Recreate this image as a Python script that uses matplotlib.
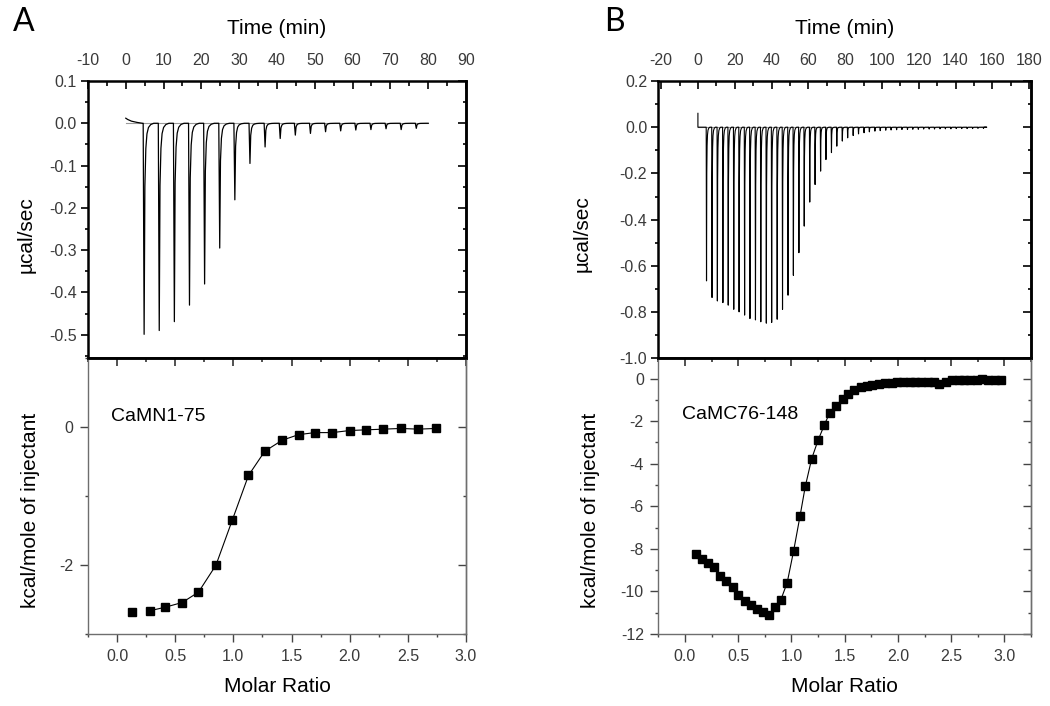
import matplotlib
matplotlib.use("Agg")
import matplotlib.pyplot as plt
from matplotlib.ticker import MultipleLocator

plt.rcParams['font.family'] = ['Liberation Sans', 'DejaVu Sans']
plt.rcParams['axes.unicode_minus'] = False

# ---- panel A: CaMN1-75 ----
# raw thermogram: injection times (min) and peak depths (ucal/sec)
inj_time_A = [4.6, 8.6, 12.6, 16.6, 20.6, 24.6, 28.6, 32.6, 36.6, 40.6,
              44.6, 48.6, 52.6, 56.6, 60.6, 64.6, 68.6, 72.6, 76.6]
peak_A = [-0.499, -0.490, -0.469, -0.430, -0.380, -0.295, -0.181, -0.095, -0.056, -0.036,
          -0.028, -0.024, -0.020, -0.018, -0.016, -0.015, -0.013, -0.015, -0.012]
start_t_A = [0.0, 0.5, 1.5, 3.0, 4.4]
start_y_A = [0.012, 0.009, 0.005, 0.002, 0.0]
end_t_A = 80.0

# integrated heats
ratio_A = [0.13, 0.28, 0.41, 0.56, 0.70, 0.85, 0.99, 1.13, 1.27, 1.42,
           1.56, 1.70, 1.85, 2.00, 2.14, 2.29, 2.44, 2.59, 2.74]
heat_A = [-2.68, -2.66, -2.61, -2.54, -2.39, -2.00, -1.35, -0.70, -0.35, -0.19,
          -0.11, -0.08, -0.08, -0.05, -0.04, -0.03, -0.02, -0.03, -0.02]

# ---- panel B: CaMC76-148 ----
inj_time_B = [4.5, 7.5, 10.4, 13.4, 16.3, 19.3, 22.2, 25.2, 28.1, 31.1,
              34.0, 37.0, 39.9, 42.9, 45.8, 48.8, 51.7, 54.7, 57.6, 60.6,
              63.5, 66.5, 69.4, 72.4, 75.3, 78.3, 81.2, 84.2, 87.1, 90.1,
              93.0, 96.0, 98.9, 101.9, 104.8, 107.8, 110.7, 113.7, 116.6, 119.6,
              122.5, 125.5, 128.4, 131.4, 134.3, 137.3, 140.2, 143.2, 146.1, 149.1,
              152.0, 155.0]
peak_B = [-0.665, -0.737, -0.752, -0.759, -0.770, -0.788, -0.799, -0.813, -0.828, -0.834,
          -0.842, -0.848, -0.845, -0.831, -0.788, -0.727, -0.641, -0.543, -0.428, -0.324,
          -0.248, -0.190, -0.140, -0.110, -0.082, -0.060, -0.046, -0.036, -0.029, -0.024,
          -0.020, -0.017, -0.015, -0.013, -0.012, -0.011, -0.010, -0.010, -0.009, -0.009,
          -0.008, -0.008, -0.008, -0.007, -0.007, -0.007, -0.006, -0.006, -0.006, -0.006,
          -0.005, -0.005]
start_t_B = [0.0, 0.0]
start_y_B = [0.06, 0.0]
end_t_B = 155.5

ratio_B = [0.10, 0.16, 0.22, 0.27, 0.33, 0.39, 0.45, 0.50, 0.56, 0.62,
           0.68, 0.73, 0.79, 0.85, 0.90, 0.96, 1.02, 1.08, 1.13, 1.19,
           1.25, 1.31, 1.36, 1.42, 1.48, 1.53, 1.59, 1.65, 1.71, 1.76,
           1.82, 1.88, 1.94, 1.99, 2.05, 2.11, 2.16, 2.22, 2.28, 2.34,
           2.39, 2.45, 2.51, 2.57, 2.62, 2.68, 2.74, 2.79, 2.85, 2.91, 2.97]
heat_B = [-8.24, -8.47, -8.68, -8.86, -9.26, -9.49, -9.77, -10.15, -10.46, -10.62,
          -10.81, -10.96, -11.09, -10.75, -10.40, -9.59, -8.11, -6.48, -5.07, -3.77,
          -2.90, -2.17, -1.60, -1.29, -0.97, -0.71, -0.55, -0.42, -0.36, -0.30,
          -0.24, -0.21, -0.20, -0.17, -0.16, -0.14, -0.14, -0.14, -0.14, -0.17,
          -0.24, -0.14, -0.08, -0.08, -0.08, -0.05, -0.05, 0.00, -0.05, -0.05, -0.08]

# shape of a single injection peak (time offset in min, fraction of depth)
peak_dt = [0, 0.25, 0.45, 0.7, 1.0, 1.4, 2.0, 2.8]
peak_frac = [0, 1, 0.3, 0.12, 0.05, 0.02, 0.006, 0]

TICK_COL = '#3a3a3a'
GREY = '#6e6e6e'


def thermogram(inj_times, peaks, start_t, start_y, end_t, t_scale):
    # build the raw power trace from the injection peaks
    t = list(start_t)
    y = list(start_y)
    for t0, h in zip(inj_times, peaks):
        for d, f in zip(peak_dt, peak_frac):
            t.append(t0 + d * t_scale)
            y.append(h * f)
    t.append(end_t)
    y.append(0.0)
    return t, y


def setup_top(ax, xlim, ylim, xmaj, xmin, ymaj, ymin):
    ax.set_xlim(*xlim)
    ax.set_ylim(*ylim)
    ax.xaxis.set_major_locator(MultipleLocator(xmaj))
    ax.xaxis.set_minor_locator(MultipleLocator(xmin))
    ax.yaxis.set_major_locator(MultipleLocator(ymaj))
    ax.yaxis.set_minor_locator(MultipleLocator(ymin))
    ax.yaxis.set_major_formatter(lambda v, p: f'{v:.1f}')
    ax.tick_params(axis='x', which='both', direction='in', top=True, bottom=False,
                   labeltop=True, labelbottom=False, width=1.2, pad=9, labelsize=11.5, labelcolor=TICK_COL)
    ax.tick_params(axis='x', which='major', length=6)
    ax.tick_params(axis='x', which='minor', length=3.5)
    ax.tick_params(axis='y', which='both', direction='out', right=False,
                   width=1.2, pad=3, labelsize=11.5, labelcolor=TICK_COL)
    ax.tick_params(axis='y', which='major', length=5)
    ax.tick_params(axis='y', which='minor', length=2.5)
    for s in ax.spines.values():
        s.set_linewidth(1.8)
        s.set_color('black')
    sec = ax.secondary_yaxis('right')
    sec.yaxis.set_major_locator(MultipleLocator(ymaj))
    sec.yaxis.set_minor_locator(MultipleLocator(ymin))
    sec.tick_params(axis='y', which='both', direction='in', labelright=False, width=1.2)
    sec.tick_params(axis='y', which='major', length=5.5)
    sec.tick_params(axis='y', which='minor', length=2.5)
    sec.spines['right'].set_linewidth(1.8)
    ax.text(0.5, 1.19, 'Time (min)', transform=ax.transAxes, ha='center', va='center', fontsize=15)


def setup_bottom(ax, ylim, xlim, ymaj, ymin):
    ax.set_xlim(*xlim)
    ax.set_ylim(*ylim)
    ax.xaxis.set_major_locator(MultipleLocator(0.5))
    ax.xaxis.set_minor_locator(MultipleLocator(0.25))
    ax.xaxis.set_major_formatter(lambda v, p: f'{v:.1f}')
    ax.yaxis.set_major_locator(MultipleLocator(ymaj))
    ax.yaxis.set_minor_locator(MultipleLocator(ymin))
    ax.yaxis.set_major_formatter(lambda v, p: f'{v:.0f}')
    ax.tick_params(axis='both', which='both', direction='out', top=False, right=False,
                   width=1.0, color='#444444', labelsize=11.5, labelcolor=TICK_COL)
    ax.tick_params(axis='both', which='major', length=5.5, pad=5)
    ax.tick_params(axis='both', which='minor', length=2.5)
    for side in ['left', 'right', 'bottom']:
        ax.spines[side].set_color(GREY)
        ax.spines[side].set_linewidth(1.0)
    ax.spines['top'].set_color('black')
    ax.spines['top'].set_linewidth(1.8)
    secx = ax.secondary_xaxis('top')
    secx.xaxis.set_major_locator(MultipleLocator(0.5))
    secx.xaxis.set_minor_locator(MultipleLocator(0.25))
    secx.tick_params(axis='x', which='both', direction='in', labeltop=False, width=1.2, color='#333333')
    secx.tick_params(axis='x', which='major', length=5.5)
    secx.tick_params(axis='x', which='minor', length=3)
    secx.spines['top'].set_linewidth(1.8)
    secy = ax.secondary_yaxis('right')
    secy.yaxis.set_major_locator(MultipleLocator(ymaj))
    secy.yaxis.set_minor_locator(MultipleLocator(ymin))
    secy.tick_params(axis='y', which='both', direction='in', labelright=False, width=1.0, color='#444444')
    secy.tick_params(axis='y', which='major', length=5.5)
    secy.tick_params(axis='y', which='minor', length=2.5)
    secy.spines['right'].set_color(GREY)
    secy.spines['right'].set_linewidth(1.0)
    ax.text(0.5, -0.19, 'Molar Ratio', transform=ax.transAxes, ha='center', va='center', fontsize=15)


fig = plt.figure(figsize=(10.5, 7.06), dpi=100)

axA1 = fig.add_axes([0.0838, 0.4929, 0.3600, 0.3924])
axA2 = fig.add_axes([0.0838, 0.1016, 0.3600, 0.3913])
axB1 = fig.add_axes([0.6270, 0.4925, 0.3549, 0.3928])
axB2 = fig.add_axes([0.6270, 0.1020, 0.3549, 0.3905])

# raw data panels
tA, yA = thermogram(inj_time_A, peak_A, start_t_A, start_y_A, end_t_A, 1.0)
axA1.plot([0, end_t_A], [0, 0], color='#9a9a9a', lw=0.8)
axA1.plot(tA, yA, color='black', lw=0.9)
setup_top(axA1, (-10, 90), (-0.555, 0.1), 10, 5, 0.1, 0.05)
axA1.set_ylabel('µcal/sec', fontsize=15)
axA1.yaxis.set_label_coords(-0.138, 0.444)

tB, yB = thermogram(inj_time_B, peak_B, start_t_B, start_y_B, end_t_B, 0.7)
axB1.plot([0, end_t_B], [0, 0], color='#9a9a9a', lw=0.8)
axB1.plot(tB, yB, color='black', lw=0.8)
setup_top(axB1, (-21.5, 181), (-1.0, 0.2), 20, 10, 0.2, 0.1)
axB1.set_ylabel('µcal/sec', fontsize=15)
axB1.yaxis.set_label_coords(-0.178, 0.448)

# integrated heat panels
axA2.plot(ratio_A[1:], heat_A[1:], color='black', lw=0.8)
axA2.plot(ratio_A, heat_A, 's', color='black', ms=5.8)
setup_bottom(axA2, (-3.0, 1.0), (-0.25, 3.0), 2, 1)
axA2.set_ylabel('kcal/mole of injectant', fontsize=15)
axA2.yaxis.set_label_coords(-0.127, 0.45)
axA2.text(0.06, 0.79, 'CaMN1-75', transform=axA2.transAxes, ha='left', va='center', fontsize=14)

axB2.plot(ratio_B, heat_B, color='black', lw=0.8)
axB2.plot(ratio_B, heat_B, 's', color='black', ms=6.2)
setup_bottom(axB2, (-12.0, 0.95), (-0.25, 3.25), 2, 1)
axB2.set_ylabel('kcal/mole of injectant', fontsize=15)
axB2.yaxis.set_label_coords(-0.156, 0.45)
axB2.text(0.063, 0.795, 'CaMC76-148', transform=axB2.transAxes, ha='left', va='center', fontsize=14)

fig.text(24 / 1050, 1 - 22 / 706, 'A', fontsize=23, family=['Lato', 'DejaVu Sans'], ha='center', va='center')
fig.text(614 / 1050, 1 - 22 / 706, 'B', fontsize=23, family=['Lato', 'DejaVu Sans'], ha='center', va='center')

fig.savefig('out.png', dpi=100)
